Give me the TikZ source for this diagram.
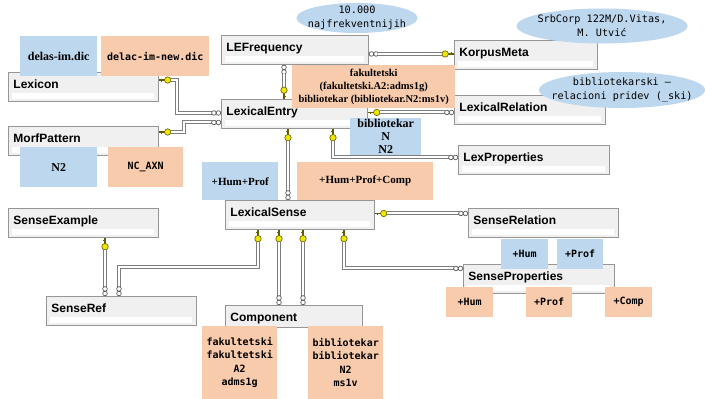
\documentclass[tikz,border=0pt]{standalone}
\usepackage{fontspec}
\setmainfont{Liberation Serif}
\newfontfamily\tblfont{Liberation Sans}
\newfontfamily\consfont{DejaVu Sans Mono}
\usetikzlibrary{calc, shapes.geometric}

\definecolor{notebl}{RGB}{189,215,238}
\definecolor{noteor}{RGB}{248,203,173}
\definecolor{tblfill}{RGB}{240,240,240}
\definecolor{tbldraw}{RGB}{150,150,150}
\definecolor{relgray}{RGB}{125,125,125}
\definecolor{keyyel}{RGB}{238,232,0}
\definecolor{keydark}{RGB}{100,90,0}

\tikzset{
  tblbox/.style={draw=tbldraw, fill=tblfill, line width=0.9pt, anchor=north west,
    inner xsep=5pt, inner ysep=0pt, text height=16.5pt, text depth=12.5pt, align=left,
    font=\tblfont\bfseries\fontsize{12}{14}\selectfont},
  tbl/.style={tblbox, text width=#1, path picture={
    \fill[white] ([xshift=4pt,yshift=2pt]path picture bounding box.south west)
      rectangle ([xshift=-4pt,yshift=8pt]path picture bounding box.south east);}},
  tbl/.default=140pt,
  note/.style={anchor=north west, inner sep=0pt, align=center},
  blnote/.style={note, fill=notebl},
  ornote/.style={note, fill=noteor},
  ell/.style={ellipse, fill=notebl, inner sep=0pt},
  sbf/.style={font=\bfseries\fontsize{#1}{13}\selectfont},
  mbf/.style={font=\consfont\bfseries\fontsize{10}{13.5}\selectfont},
  mrf/.style={font=\consfont\fontsize{10.2}{14}\selectfont},
  rel/.style={draw=relgray, line width=1pt, double=white, double distance=2pt},
  pk/.pic={
    \draw[keydark, line width=1.1pt] (0,0) -- (6,0) (2.5,0) -- (2.5,2);
    \filldraw[fill=keyyel, draw=keydark, line width=0.6pt] (8.8,0) circle (3.2pt);
  },
  fk/.pic={
    \filldraw[fill=white, draw=black!65, line width=0.7pt] (2.5,0) circle (2.3pt) (7.1,0) circle (2.3pt);
  }
}

\begin{document}
\begin{tikzpicture}[x=1pt, y=-1pt]
\fill[white] (0,0) rectangle (705,399);
\useasboundingbox (0,0) rectangle (705,399);

% tables
\node[tbl] (lexicon) at (8,72) {Lexicon};
\node[tbl] (morf) at (8,126) {MorfPattern};
\node[tbl=137pt] (lefreq) at (221,35) {LEFrequency};
\node[tbl=133pt] (korpus) at (454,40) {KorpusMeta};
\node[tbl=136pt] (lexentry) at (221,99) {LexicalEntry};
\node[tbl=141pt] (lexrel) at (454,95) {LexicalRelation};
\node[tbl=141pt] (lexprop) at (458,145) {LexProperties};
\node[tbl=139pt] (lexsense) at (225,200) {LexicalSense};
\node[tbl] (senserel) at (468,208) {SenseRelation};
\node[tbl=141pt] (senseprop) at (463,264) {SenseProperties};
\node[tbl] (senseex) at (8,208) {SenseExample};
\node[tbl] (senseref) at (46,296) {SenseRef};
\node[tblbox, text width=127pt, text depth=5.5pt] (comp) at (225,305) {Component};

% Lexicon, MorfPattern -> LexicalEntry
\pic at ($(lexicon.north east)+(0,8)$) {pk};
\draw[rel] ($(lexicon.north east)+(12,8)$) -- ++(6,0) |- ($(lexentry.west)+(-9.5,-1)$);
\pic[rotate=180] at ($(lexentry.west)+(0,-1)$) {fk};
\pic at ($(morf.north east)+(0,6)$) {pk};
\draw[rel] ($(morf.north east)+(12,6)$) -- ++(13,0) |- ($(lexentry.west)+(-9.5,8.5)$);
\pic[rotate=180] at ($(lexentry.west)+(0,8.5)$) {fk};

% LEFrequency -> KorpusMeta, LexicalEntry
\pic at ($(lefreq.east)+(0,4)$) {fk};
\draw[rel] ($(lefreq.east)+(9.5,4)$) -- ($(korpus.west)+(-12,-1)$);
\pic[rotate=180] at ($(korpus.west)+(0,-1)$) {pk};
\pic[rotate=-90] at ($(lefreq.south west)+(63,0)$) {fk};
\draw[rel] ($(lefreq.south west)+(63,9.5)$) -- ($(lexentry.north west)+(63,-12)$);
\pic[rotate=90] at ($(lexentry.north west)+(63,0)$) {pk};

% LexicalEntry -> LexicalRelation, LexicalSense, LexProperties
\pic at ($(lexentry.east)+(0,-1.5)$) {pk};
\draw[rel] ($(lexentry.east)+(12,-1.5)$) -- ($(lexrel.west)+(-9.5,2.5)$);
\pic[rotate=180] at ($(lexrel.west)+(0,2.5)$) {fk};
\pic[rotate=-90] at ($(lexentry.south west)+(67,0)$) {pk};
\draw[rel] ($(lexentry.south west)+(67,12)$) -- ($(lexsense.north west)+(63,-9.5)$);
\pic[rotate=90] at ($(lexsense.north west)+(63,0)$) {fk};
\pic[rotate=-90] at ($(lexentry.south west)+(112,0)$) {pk};
\draw[rel] ($(lexentry.south west)+(112,12)$) |- ($(lexprop.west)+(-9.5,-2.5)$);
\pic[rotate=180] at ($(lexprop.west)+(0,-2.5)$) {fk};

% LexicalSense -> SenseRelation, SenseRef, Component, SenseProperties
\pic at ($(lexsense.east)+(0,-1.5)$) {pk};
\draw[rel] ($(lexsense.east)+(12,-1.5)$) -- ($(senserel.west)+(-9.5,-9.5)$);
\pic[rotate=180] at ($(senserel.west)+(0,-9.5)$) {fk};
\pic[rotate=-90] at ($(lexsense.south west)+(33,0)$) {pk};
\draw[rel] ($(lexsense.south west)+(33,12)$) -- ++(0,25) -| ($(senseref.north west)+(73,-9.5)$);
\pic[rotate=90] at ($(senseref.north west)+(73,0)$) {fk};
\foreach \dx in {54,78}{
  \pic[rotate=-90] at ($(lexsense.south west)+(\dx,0)$) {pk};
  \draw[rel] ($(lexsense.south west)+(\dx,12)$) -- ($(comp.north west)+(\dx,-9.5)$);
  \pic[rotate=90] at ($(comp.north west)+(\dx,0)$) {fk};
}
\pic[rotate=-90] at ($(lexsense.south west)+(119,0)$) {pk};
\draw[rel] ($(lexsense.south west)+(119,12)$) |- ($(senseprop.west)+(-9.5,-10.5)$);
\pic[rotate=180] at ($(senseprop.west)+(0,-10.5)$) {fk};

% SenseExample -> SenseRef
\pic[rotate=-90] at ($(senseex.south west)+(97,0)$) {pk};
\draw[rel] ($(senseex.south west)+(97,12)$) -- ($(senseref.north west)+(59,-9.5)$);
\pic[rotate=90] at ($(senseref.north west)+(59,0)$) {fk};

% notes
\node[blnote, sbf=12, minimum width=77pt, minimum height=40pt] (delas) at (20,36) {delas-im.dic};
\node[ornote, mbf, minimum width=108pt, minimum height=40pt] (delac) at (101,36) {delac-im-new.dic};
\node[blnote, sbf=12, minimum width=77pt, minimum height=40pt] (morfbl) at (20,147) {N2};
\node[ornote, mbf, minimum width=75pt, minimum height=40pt] (morfor) at (108,147) {NC\_AXN};
\node[ornote, sbf=10.5, minimum width=163pt, minimum height=43pt] (entryor) at (292,65) {fakultetski\\(fakultetski.A2:adms1g)\\bibliotekar (bibliotekar.N2:ms1v)};
\node[blnote, sbf=12, minimum width=71pt, minimum height=37pt] (entrybl) at (350,118) {bibliotekar\\N\\N2};
\node[blnote, sbf=11, minimum width=76pt, minimum height=38pt] (sensebl) at (202,162) {+Hum+Prof};
\node[ornote, sbf=11, minimum width=136pt, minimum height=38pt] (senseor) at (297,162) {+Hum+Prof+Comp};
\node[ornote, mbf, minimum width=75pt, minimum height=73pt] (compa) at (202,326) {fakultetski\\fakultetski\\A2\\adms1g};
\node[ornote, mbf, minimum width=75pt, minimum height=73pt] (compb) at (308,326) {bibliotekar\\bibliotekar\\N2\\ms1v};
\node[blnote, mbf, minimum width=47pt, minimum height=30pt] (relhum) at (501,239) {+Hum};
\node[blnote, mbf, minimum width=46pt, minimum height=30pt] (relprof) at (557,239) {+Prof};
\node[ornote, mbf, minimum width=47pt, minimum height=30pt] (prophum) at (446,287) {+Hum};
\node[ornote, mbf, minimum width=46pt, minimum height=30pt] (propprof) at (526,287) {+Prof};
\node[ornote, mbf, minimum width=47pt, minimum height=30pt] (propcomp) at (605,287) {+Comp};

% ellipses
\node[ell, minimum width=121pt, minimum height=30pt,
  label={[mrf, align=center]center:{10.000\\najfrekventnijih}}] (freqell) at (357,18) {};
\node[ell, minimum width=171pt, minimum height=35pt,
  label={[mrf, align=center]center:{SrbCorp 122M/D.Vitas,\\M. Utvić}}] (corpell) at (602,26) {};
\node[ell, minimum width=166pt, minimum height=36pt,
  label={[mrf, align=center]center:{bibliotekarski –\\relacioni pridev (\_ski)}}] (relell) at (622,90) {};
\end{tikzpicture}
\end{document}
